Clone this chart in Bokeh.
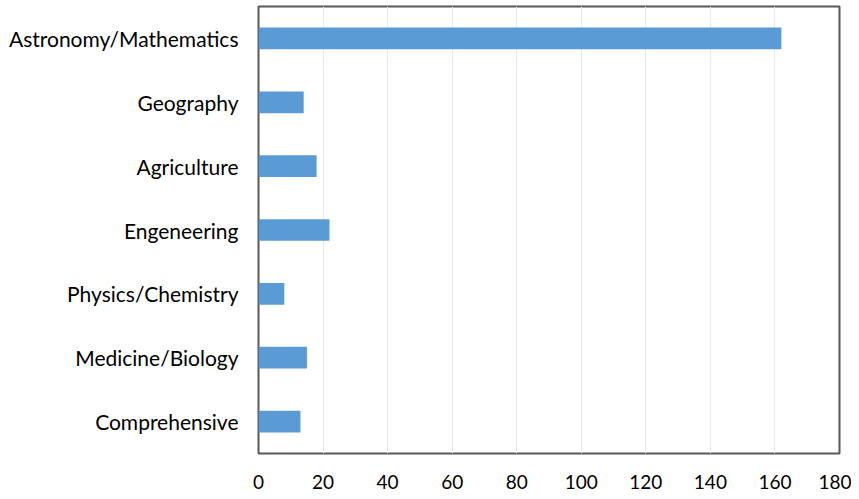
from bokeh.plotting import figure
from bokeh.models import FactorRange, Range1d, FixedTicker
from bokeh.embed import file_html
from bokeh.resources import INLINE

categories = ["Comprehensive", "Medicine/Biology", "Physics/Chemistry", "Engeneering",
              "Agriculture", "Geography", "Astronomy/Mathematics"]
values = [13, 15, 8, 22, 18, 14, 162]
x_ticks = [0, 20, 40, 60, 80, 100, 120, 140, 160, 180]

p = figure(width=851, height=491, y_range=FactorRange(*categories, range_padding=0),
           x_range=Range1d(0, 180), output_backend="svg", toolbar_location=None,
           min_border_left=258, min_border_right=12, min_border_top=6, min_border_bottom=36)
p.y_range.range_padding = 0
p.hbar(y=categories, right=values, left=0, height=0.34, color="#5B9BD5", line_color=None)

p.outline_line_color = "#595959"
p.outline_line_width = 2
p.xaxis.ticker = FixedTicker(ticks=x_ticks)
p.xgrid.ticker = FixedTicker(ticks=x_ticks)
p.xgrid.grid_line_color = "#EAEAEA"
p.ygrid.grid_line_color = None
for ax in (p.xaxis, p.yaxis):
    ax.axis_line_color = None
    ax.major_tick_line_color = None
    ax.minor_tick_line_color = None
    ax.major_label_text_font = "Lato"
    ax.major_label_text_color = "#000000"
p.yaxis.major_label_text_font_size = "21px"
p.xaxis.major_label_text_font_size = "19px"
p.yaxis.major_label_standoff = 14
p.xaxis.major_label_standoff = 15

open("out.html", "w").write(file_html(p, INLINE))
